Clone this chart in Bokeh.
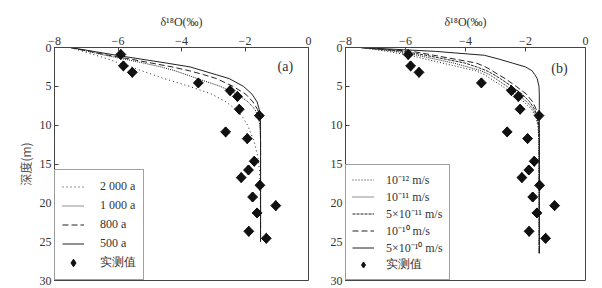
from bokeh.plotting import figure
from bokeh.layouts import row
from bokeh.models import Range1d, Legend, LegendItem, Label, FixedTicker, ColumnDataSource
from bokeh.embed import file_html
from bokeh.resources import INLINE
import numpy as np

# ---------------- data ----------------
obs_d18O = [-5.91, -5.83, -5.55, -3.47, -2.47, -2.24, -2.18, -1.55, -2.61, -1.93,
            -1.71, -1.89, -2.12, -1.53, -1.76, -1.03, -1.62, -1.88, -1.33]
obs_depth = [0.9, 2.37, 3.2, 4.56, 5.55, 6.3, 7.95, 8.77, 10.87, 11.73,
             14.65, 15.77, 16.75, 17.74, 19.25, 20.36, 21.3, 23.67, 24.57]

# panel (a): time series
depth_a = [0, 0.5, 1, 1.5, 2, 2.5, 3, 3.5, 4, 5, 6, 7, 8, 9, 10, 12, 14, 16, 18, 25]
a_2000 = [-7.5, -7.1, -6.7, -6.3, -5.97, -5.6, -5.25, -4.9, -4.55, -3.75, -3.05, -2.6,
          -2.28, -2.07, -1.92, -1.72, -1.6, -1.54, -1.52, -1.51]
a_1000 = [-7.5, -6.95, -6.4, -5.8, -5.2, -4.65, -4.2, -3.85, -3.5, -2.78, -2.25, -1.9,
          -1.68, -1.58, -1.53, -1.51, -1.51, -1.51, -1.51, -1.51]
a_800 = [-7.5, -6.9, -6.3, -5.6, -4.95, -4.3, -3.75, -3.3, -2.9, -2.38, -1.98, -1.75,
         -1.6, -1.54, -1.52, -1.51, -1.51, -1.51, -1.51, -1.51]
a_500 = [-7.5, -6.77, -6.05, -5.27, -4.48, -3.73, -3.32, -2.91, -2.5, -2.05, -1.78, -1.62,
         -1.55, -1.52, -1.51, -1.51, -1.51, -1.51, -1.51, -1.51]
labels_a = ["2 000 a", "1 000 a", "800 a", "500 a"]

# panel (b): permeability series
depth_b = [0, 0.5, 1, 1.5, 2, 2.5, 3, 3.5, 4, 5, 6, 7, 8, 9, 10, 12, 26.5]
b_1e12 = [-7.5, -6.6, -5.86, -5.32, -4.77, -4.23, -3.66, -3.36, -3.17, -2.77, -2.4, -2.05,
          -1.79, -1.66, -1.59, -1.55, -1.54]
b_1e11 = [-7.5, -6.33, -5.6, -5.0, -4.4, -3.93, -3.48, -3.2, -3.0, -2.62, -2.26, -1.95,
          -1.74, -1.63, -1.57, -1.55, -1.54]
b_5e11 = [-7.5, -6.05, -5.33, -4.67, -4.02, -3.63, -3.29, -3.05, -2.84, -2.46, -2.11, -1.86,
          -1.69, -1.61, -1.56, -1.54, -1.54]
b_1e10 = [-7.5, -5.78, -5.06, -4.35, -3.64, -3.33, -3.11, -2.9, -2.68, -2.31, -1.97, -1.76,
          -1.64, -1.58, -1.55, -1.54, -1.54]
b_5e10 = [-7.5, -5.0, -3.37, -2.88, -2.44, -2.0, -1.78, -1.69, -1.61, -1.55, -1.54, -1.54,
          -1.54, -1.54, -1.54, -1.54, -1.54]
labels_b = ["10\u207b\u00b9\u00b2 m/s", "10\u207b\u00b9\u00b9 m/s", "5\u00d710\u207b\u00b9\u00b9 m/s",
            "10\u207b\u00b9\u2070 m/s", "5\u00d710\u207b\u00b9\u2070 m/s"]
obs_label = "实测值"
x_ticks = [-8, -6, -4, -2, 0]
y_ticks = [0, 5, 10, 15, 20, 25, 30]

SERIF = "Liberation Serif"
INK = "#222222"
AX = "#444444"


def make_fig(fw, bl, br, ylabel):
    p = figure(frame_width=fw, frame_height=233, output_backend="svg", toolbar_location=None,
               x_range=Range1d(-8, 0), y_range=Range1d(30, 0), x_axis_location="above",
               min_border_left=bl, min_border_right=br, min_border_top=47, min_border_bottom=8)
    p.xgrid.visible = False
    p.ygrid.visible = False
    p.outline_line_color = AX
    p.outline_line_width = 1
    p.xaxis.ticker = FixedTicker(ticks=x_ticks)
    p.yaxis.ticker = FixedTicker(ticks=y_ticks)
    for ax in (p.xaxis[0], p.yaxis[0]):
        ax.major_tick_in = 4
        ax.major_tick_out = 0
        ax.minor_tick_line_color = None
        ax.axis_line_color = AX
        ax.major_tick_line_color = AX
        ax.major_label_text_font = SERIF
        ax.major_label_text_font_size = "12px"
        ax.major_label_text_color = "#333333"
        ax.major_label_standoff = 3
    p.xaxis.axis_label = "\u03b4\u00b9\u2078O(\u2030)"
    p.xaxis.axis_label_text_font = SERIF
    p.xaxis.axis_label_text_font_style = "normal"
    p.xaxis.axis_label_text_font_size = "12px"
    p.xaxis.axis_label_text_color = "#333333"
    p.xaxis.axis_label_standoff = 5
    if ylabel:
        p.yaxis.axis_label = ylabel
        p.yaxis.axis_label_text_font = "Noto Sans CJK SC"
        p.yaxis.axis_label_text_font_style = "normal"
        p.yaxis.axis_label_text_font_size = "12px"
        p.yaxis.axis_label_text_color = "#555555"
        p.yaxis.axis_label_standoff = 3
    return p


def add_obs(p):
    src = ColumnDataSource(dict(x=obs_d18O, y=obs_depth))
    # diamond glyph used for the legend (hidden beneath the rotated squares)
    leg = p.scatter(x="x", y="y", source=src, marker="diamond", size=10,
                    fill_color="#111111", line_color="#111111")
    p.scatter(x="x", y="y", source=src, marker="square", angle=np.pi / 4, size=7,
              fill_color="#111111", line_color="#111111")
    return leg


# ---------------- panel (a) ----------------
p1 = make_fig(254, 54, 12, "深度(m)")
src_a = ColumnDataSource(dict(depth=depth_a, s2000=a_2000, s1000=a_1000, s800=a_800, s500=a_500))
dashes_a = ["1 3", "1 1", "6 3", "solid"]
cols_a = ["s2000", "s1000", "s800", "s500"]
items_a = []
for col, dash, lab in zip(cols_a, dashes_a, labels_a):
    r = p1.line(x=col, y="depth", source=src_a, line_color=INK, line_width=1, line_dash=dash)
    items_a.append(LegendItem(label=lab, renderers=[r]))
items_a.append(LegendItem(label=obs_label, renderers=[add_obs(p1)]))

leg_a = Legend(items=items_a, location="bottom_left", margin=0, padding=7,
               label_height=19, glyph_height=19, glyph_width=22, spacing=0, label_standoff=16,
               border_line_color=AX, border_line_width=1,
               label_text_font=SERIF, label_text_font_size="12px", label_text_color="#333333")
p1.add_layout(leg_a)
p1.add_layout(Label(x=-0.73, y=2.5, text="(a)", text_font=SERIF, text_font_size="14px",
                    text_align="center", text_baseline="middle", text_color="#333333"))

# ---------------- panel (b) ----------------
p2 = make_fig(240, 25, 12, None)
src_b = ColumnDataSource(dict(depth=depth_b, s1=b_1e12, s2=b_1e11, s3=b_5e11, s4=b_1e10, s5=b_5e10))
dashes_b = ["1 2", "1 1", "3 1", "6 3", "solid"]
cols_b = ["s1", "s2", "s3", "s4", "s5"]
items_b = []
for col, dash, lab in zip(cols_b, dashes_b, labels_b):
    r = p2.line(x=col, y="depth", source=src_b, line_color=INK, line_width=1, line_dash=dash)
    items_b.append(LegendItem(label=lab, renderers=[r]))
items_b.append(LegendItem(label=obs_label, renderers=[add_obs(p2)]))

leg_b = Legend(items=items_b, location="bottom_left", margin=0, padding=6,
               label_height=15, glyph_height=15, glyph_width=22, spacing=0, label_standoff=12,
               border_line_color=AX, border_line_width=1,
               label_text_font=SERIF, label_text_font_size="12px", label_text_color="#333333")
p2.add_layout(leg_b)
p2.add_layout(Label(x=-0.87, y=2.7, text="(b)", text_font=SERIF, text_font_size="14px",
                    text_align="center", text_baseline="middle", text_color="#333333"))

layout = row(p1, p2)
open("out.html", "w").write(file_html(layout, INLINE))
